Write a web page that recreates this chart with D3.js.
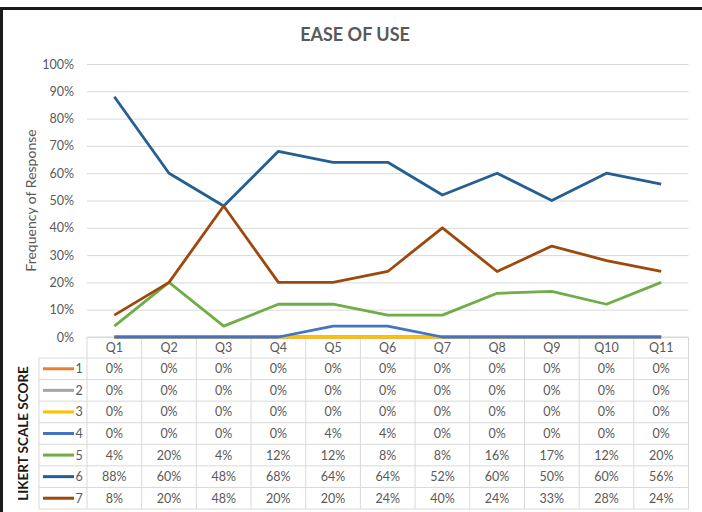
<!DOCTYPE html>
<html><head><meta charset="utf-8">
<script src="https://cdn.jsdelivr.net/npm/d3@7"></script>
<style>body{margin:0;background:#fff}svg{display:block}text{font-family:Lato,"Liberation Sans",sans-serif}</style>
</head><body><svg id="c" width="702" height="512"></svg>
<script>
const categories = ["Q1","Q2","Q3","Q4","Q5","Q6","Q7","Q8","Q9","Q10","Q11"];
const seriesNames = ["1","2","3","4","5","6","7"];
const s1 = [0,0,0,0,0,0,0,0,0,0,0];
const s2 = [0,0,0,0,0,0,0,0,0,0,0];
const s3 = [0,0,0,0,0,0,0,0,0,0,0];
const s4 = [0,0,0,0,4,4,0,0,0,0,0];
const s5 = [4,20,4,12,12,8,8,16,16.7,12,20];
const s6 = [88,60,48,68,64,64,52,60,50,60,56];
const s7 = [8,20,48,20,20,24,40,24,33.3,28,24];
const yTicks = [0,10,20,30,40,50,60,70,80,90,100];
const colors = ["#ED7D31","#A5A5A5","#FFC000","#4472C4","#70AD47","#255E91","#9E480E"];
const series = [s1,s2,s3,s4,s5,s6,s7];

const svg = d3.select("#c");
const L = 87, R = 688.5, T = 64, B = 337;
const rowH = (509 - 358) / 7;
const x = d3.scaleBand().domain(categories).range([L, R]);
const y = d3.scaleLinear().domain([0,100]).range([B, T]);
const textCol = "#595959", gridCol = "#d9d9d9";
const fs = 12.5;

// frame
svg.append("rect").attr("x",0).attr("y",7).attr("width",702).attr("height",3).attr("fill","#1a1a1a");
svg.append("rect").attr("x",0).attr("y",7).attr("width",3).attr("height",505).attr("fill","#1a1a1a");

// title
svg.append("text").attr("x",355).attr("y",41).attr("text-anchor","middle")
  .attr("font-size",18).attr("font-weight","bold").attr("fill",textCol).text("EASE OF USE");

// gridlines
const grid = svg.append("g").attr("transform",`translate(${L},0)`)
  .call(d3.axisLeft(y).tickValues(yTicks).tickSize(-(R-L)).tickFormat(""));
grid.select(".domain").remove();
grid.selectAll("line").attr("stroke",gridCol).attr("stroke-width",1);

// y axis labels
const ya = svg.append("g").attr("transform",`translate(${L},0)`)
  .call(d3.axisLeft(y).tickValues(yTicks).tickSize(0).tickPadding(13).tickFormat(d=>d+"%"));
ya.select(".domain").remove();
ya.selectAll("text").attr("fill",textCol).attr("font-size",fs).style("font-family","Lato, sans-serif");

svg.append("text").attr("transform",`translate(36,${(T+B)/2}) rotate(-90)`)
  .attr("text-anchor","middle").attr("font-size",14).attr("fill",textCol).text("Frequency of Response");

// table grid
const tg = svg.append("g").attr("stroke",gridCol).attr("stroke-width",1).attr("fill","none");
tg.append("line").attr("x1",L).attr("x2",R).attr("y1",B).attr("y2",B);
for (let i=0;i<=7;i++){
  const yy = 358 + i*rowH;
  tg.append("line").attr("x1",39).attr("x2",R).attr("y1",yy).attr("y2",yy);
}
const vx = categories.map(c=>x(c)).concat([R]);
vx.forEach(v=>tg.append("line").attr("x1",v).attr("x2",v).attr("y1",B).attr("y2",509));
tg.append("line").attr("x1",39).attr("x2",39).attr("y1",358).attr("y2",509);

// header
svg.append("g").selectAll("text").data(categories).join("text")
  .attr("x",d=>x(d)+x.bandwidth()/2).attr("y",352).attr("text-anchor","middle")
  .attr("font-size",fs).attr("fill",textCol).text(d=>d);

// cells
const fmt = v => Math.round(v)+"%";
series.forEach((s,i)=>{
  const cy = 358 + (i+0.5)*rowH + 4.5;
  svg.append("g").selectAll("text").data(s).join("text")
    .attr("x",(d,j)=>x(categories[j])+x.bandwidth()/2).attr("y",cy).attr("text-anchor","middle")
    .attr("font-size",fs).attr("fill",textCol).text(fmt);
  svg.append("line").attr("x1",43).attr("x2",74).attr("y1",cy-4.5).attr("y2",cy-4.5)
    .attr("stroke",colors[i]).attr("stroke-width",3);
  svg.append("text").attr("x",75.5).attr("y",cy).attr("font-size",fs).attr("fill",textCol).text(seriesNames[i]);
});

svg.append("text").attr("transform",`translate(28,${358+3.5*rowH}) rotate(-90)`)
  .attr("text-anchor","middle").attr("font-size",13.5).attr("font-weight","bold").attr("fill","#1a1a1a")
  .text("LIKERT SCALE SCORE");

// lines
const line = d3.line().x((d,j)=>x(categories[j])+x.bandwidth()/2).y(d=>y(d));
series.forEach((s,i)=>{
  svg.append("path").datum(s).attr("d",line).attr("fill","none")
    .attr("stroke",colors[i]).attr("stroke-width",2.8).attr("stroke-linejoin","round");
});
</script></body></html>
